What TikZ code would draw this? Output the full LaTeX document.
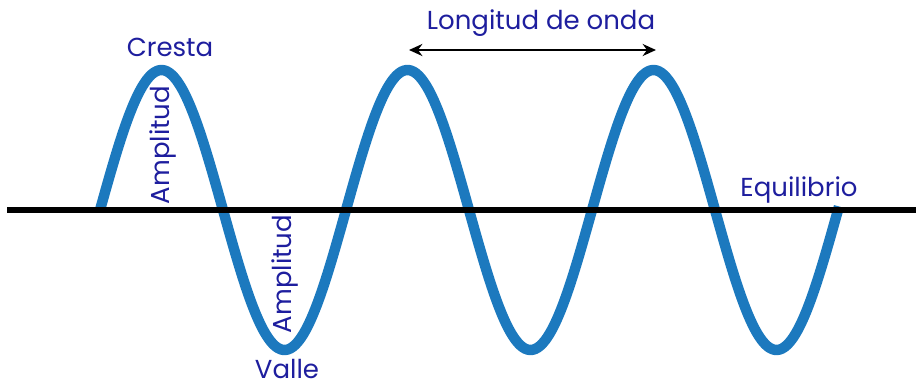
\documentclass[tikz,border=0pt]{standalone}
\usepackage{fontspec}
\setmainfont{Poppins}
\usetikzlibrary{arrows.meta}
\definecolor{wave}{HTML}{1C79BE}
\definecolor{lbl}{HTML}{1E1E9E}
\begin{document}
\begin{tikzpicture}[x=0.75pt,y=-0.75pt,
  lab/.style={text=lbl,font=\fontsize{19.5}{22}\selectfont,inner sep=0pt}]
\useasboundingbox (0,0) rectangle (916,385);
\draw[wave,line width=7.8pt,line join=round]
  plot[domain=100:839,samples=300,smooth] (\x,{210-140*sin(1.463415*(\x-100))});
\coordinate (L) at (7,210);
\coordinate (R) at (916,210);
\draw[black,line width=4.6pt] (L) -- (R);
\node[lab,anchor=base] (cresta) at (170,57) {Cresta};
\node[lab,anchor=base] (valle) at (287,378) {Valle};
\node[lab,rotate=90] (amp1) at (163,145) {Amplitud};
\node[lab,rotate=90] (amp2) at (285,274) {Amplitud};
\node[lab,anchor=base] (long) at (541,30) {Longitud de onda};
\node[lab,anchor=base] (equi) at (799,196) {Equilibrio};
\coordinate (p1) at (409,50);
\coordinate (p2) at (656,50);
\draw[black,line width=2pt,{Stealth[length=10pt,width=9pt]}-{Stealth[length=10pt,width=9pt]}] (p1) -- (p2);
\end{tikzpicture}
\end{document}
